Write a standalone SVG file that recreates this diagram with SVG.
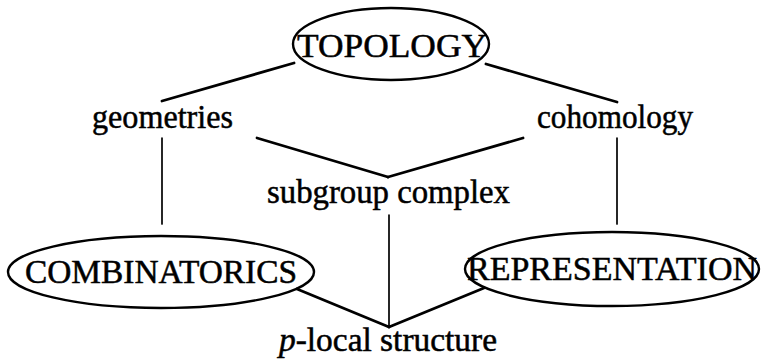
<svg xmlns="http://www.w3.org/2000/svg" width="761" height="360" viewBox="0 0 761 360">
<style>
.t{font-family:"Liberation Serif","Times New Roman",serif;font-size:33px;fill:#000;stroke:#000;stroke-width:0.5}
.cap{font-size:33px}
.e{fill:none;stroke:#000;stroke-width:2.4}
.c line{stroke:#000;stroke-linecap:round}
.d{stroke-width:2.8}
.v{stroke-width:1.7}
</style>
<rect width="761" height="360" fill="#fff"/>
<g class="c" id="connectors">
<line class="d" x1="294" y1="63" x2="162" y2="101"/>
<line class="d" x1="486" y1="64" x2="617" y2="102"/>
<line class="d" x1="257" y1="138" x2="388" y2="177"/>
<line class="d" x1="523" y1="138" x2="388" y2="177"/>
<line class="v" x1="162" y1="138" x2="162" y2="224"/>
<line class="v" x1="617" y1="138" x2="617" y2="224"/>
<line class="v" x1="389" y1="215" x2="389" y2="327"/>
<line class="d" x1="297" y1="289" x2="389" y2="327"/>
<line class="d" x1="484" y1="288" x2="389" y2="327"/>
</g>
<g id="topology">
<ellipse class="e" cx="391" cy="44" rx="98" ry="36"/>
<text class="t cap" x="297" y="57" textLength="190" lengthAdjust="spacingAndGlyphs">TOPOLOGY</text>
</g>
<g id="geometries">
<text class="t" x="92" y="128" textLength="141" lengthAdjust="spacingAndGlyphs">geometries</text>
</g>
<g id="cohomology">
<text class="t" x="537" y="128" textLength="156" lengthAdjust="spacingAndGlyphs">cohomology</text>
</g>
<g id="subgroup-complex">
<text class="t" x="267" y="203" textLength="243" lengthAdjust="spacingAndGlyphs">subgroup complex</text>
</g>
<g id="combinatorics">
<ellipse class="e" cx="161" cy="272" rx="153" ry="36"/>
<text class="t cap" x="25" y="283" textLength="272" lengthAdjust="spacingAndGlyphs">COMBINATORICS</text>
</g>
<g id="representation">
<ellipse class="e" cx="612" cy="269" rx="147" ry="37"/>
<text class="t cap" x="467" y="280" textLength="290" lengthAdjust="spacingAndGlyphs">REPRESENTATION</text>
</g>
<g id="p-local-structure">
<text class="t" x="279" y="351" textLength="218" lengthAdjust="spacingAndGlyphs"><tspan font-style="italic">p</tspan>-local structure</text>
</g>
</svg>
